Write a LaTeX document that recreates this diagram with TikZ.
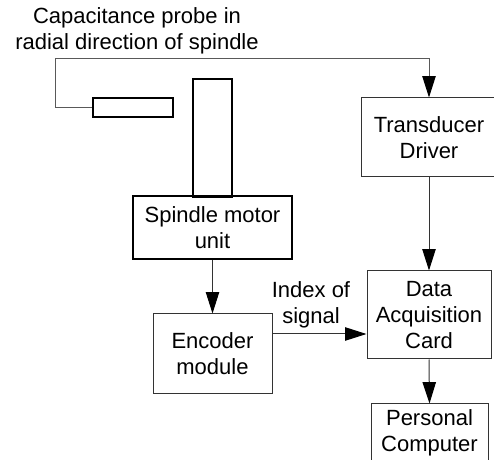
\documentclass[tikz,border=0pt]{standalone}
\usepackage{fontspec}
\setmainfont{Liberation Sans}
\usetikzlibrary{arrows.meta}
\begin{document}
\begin{tikzpicture}[x=0.75pt,y=-0.75pt,
  txt/.style={font=\fontsize{16.5}{19.5}\selectfont, align=center, inner sep=0pt},
  box/.style={txt, draw=black!80, line width=0.75pt, rectangle},
  heavy/.style={txt, draw=black, line width=1.2pt, rectangle},
  arr/.style={draw=black!80, line width=0.75pt, -{Triangle[length=16pt,width=10pt,black]}},
  wire/.style={draw=black!65, line width=0.75pt}]
\useasboundingbox (0,0) rectangle (494,460);

% sensor, spindle shaft and motor unit
\node[heavy, minimum width=60pt, minimum height=14.25pt] (probe) at (133,107.5) {};
\node[heavy, minimum width=29.25pt, minimum height=88.5pt] (shaft) at (212.5,138) {};
\node[heavy, minimum width=119.25pt, minimum height=47.25pt] (motor) at (212.5,227.5) {Spindle motor\\unit};

% signal chain (the driver box runs past the right edge of the page)
\node[box, minimum width=111pt, minimum height=59.25pt,
      label={[txt, xshift=-4.5pt]center:{Transducer\\Driver}}] (drv) at (435,137.5) {};
\node[box, minimum width=89.25pt, minimum height=60pt] (enc) at (212.5,354) {Encoder\\module};
\node[box, minimum width=93pt, minimum height=66pt] (daq) at (429,315) {Data\\Acquisition\\Card};
\node[box, minimum width=87.75pt, minimum height=43.5pt] (pc) at (429.5,433) {Personal\\Computer};

% labels
\node[txt] (cap) at (137,31) {Capacitance probe in\\radial direction of spindle};
\node[txt] (idx) at (311,304.5) {Index of\\signal};

% connectors
\coordinate (bend) at (55,59);
\draw[wire] (probe.west) -| (bend);
\draw[arr, draw=black!65] (bend) -| (daq.north |- drv.north);
\draw[arr] (daq.north |- drv.south) -- (daq.north);
\draw[arr] (motor.south) -- (enc.north);
\draw[arr] (enc.east |- 0,334) -- (daq.west |- 0,334);
\draw[arr] (daq.south) -- (pc.north);
\end{tikzpicture}
\end{document}
